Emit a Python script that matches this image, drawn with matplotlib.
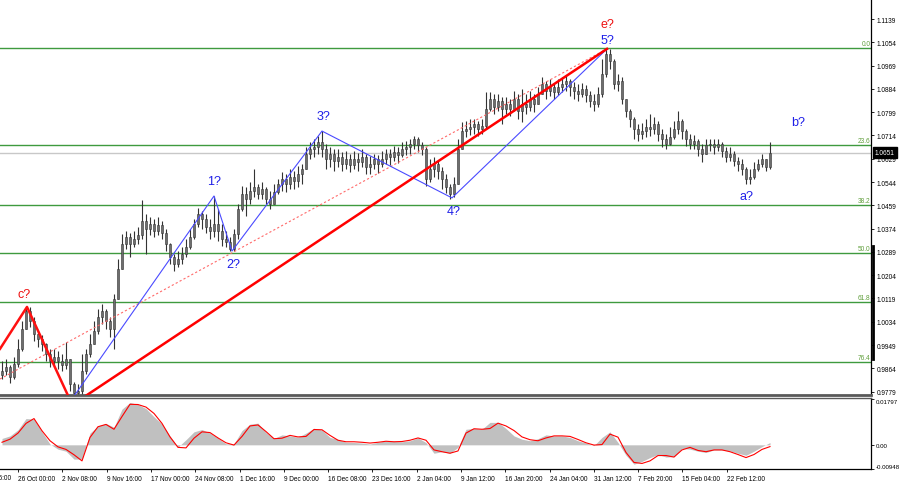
import matplotlib
matplotlib.use('Agg')
import matplotlib.pyplot as plt
import matplotlib.transforms as mtransforms
from matplotlib.lines import Line2D
import numpy as np

plt.rcParams['font.family'] = ['Liberation Sans', 'DejaVu Sans']

# candle data, price in pips (1e-4)
closes = [
    9854, 9869, 9832, 9880, 9935, 10008, 10073, 10037, 9989, 9971,
    9953, 9916, 9891, 9905, 9891, 9876, 9898, 9807, 9774, 9781,
    9854, 9916, 9953, 10000, 10051, 10073, 10037, 10008, 10117, 10227,
    10318, 10343, 10318, 10336, 10351, 10402, 10373, 10391, 10365, 10387,
    10358, 10318, 10270, 10245, 10263, 10281, 10307, 10343, 10391, 10427,
    10409, 10380, 10365, 10391, 10365, 10336, 10325, 10300, 10354, 10446,
    10500, 10482, 10511, 10526, 10500, 10518, 10482, 10464, 10507, 10537,
    10555, 10537, 10562, 10548, 10573, 10592, 10646, 10664, 10672, 10690,
    10664, 10628, 10646, 10621, 10635, 10610, 10628, 10606, 10628, 10617,
    10635, 10599, 10610, 10628, 10610, 10628, 10646, 10635, 10654, 10643,
    10664, 10672, 10683, 10701, 10679, 10664, 10555, 10592, 10610, 10584,
    10555, 10526, 10500, 10537, 10664, 10730, 10738, 10745, 10756, 10738,
    10748, 10811, 10847, 10818, 10840, 10811, 10829, 10811, 10847, 10803,
    10829, 10818, 10847, 10829, 10865, 10902, 10876, 10891, 10873, 10891,
    10902, 10913, 10891, 10876, 10865, 10884, 10862, 10840, 10829, 10865,
    10938, 11011, 10986, 10902, 10913, 10847, 10803, 10774, 10738, 10719,
    10730, 10745, 10738, 10756, 10719, 10701, 10683, 10708, 10738, 10767,
    10730, 10701, 10683, 10694, 10664, 10646, 10679, 10683, 10672, 10683,
    10657, 10635, 10646, 10621, 10610, 10592, 10555, 10562, 10592, 10610,
    10628, 10599, 10651,
]
highs = [
    9891, 9898, 9876, 9905, 9971, 10037, 10088, 10088, 10051, 10000,
    9986, 9956, 9935, 9935, 9927, 9916, 9960, 9880, 9814, 9807,
    9916, 9935, 9989, 10037, 10081, 10099, 10081, 10051, 10135, 10263,
    10354, 10365, 10358, 10365, 10380, 10478, 10427, 10416, 10409, 10416,
    10402, 10373, 10321, 10281, 10292, 10307, 10336, 10373, 10409, 10449,
    10438, 10427, 10409, 10493, 10446, 10391, 10365, 10343, 10373, 10464,
    10529, 10526, 10544, 10592, 10537, 10544, 10526, 10511, 10537, 10555,
    10581, 10573, 10592, 10584, 10602, 10610, 10672, 10690, 10701, 10712,
    10730, 10683, 10672, 10664, 10664, 10654, 10657, 10646, 10657, 10650,
    10664, 10646, 10639, 10646, 10643, 10657, 10664, 10664, 10675, 10672,
    10690, 10694, 10701, 10712, 10708, 10690, 10672, 10628, 10635, 10621,
    10599, 10573, 10537, 10562, 10701, 10763, 10767, 10774, 10774, 10767,
    10774, 10873, 10873, 10865, 10865, 10854, 10854, 10847, 10876, 10865,
    10884, 10865, 10876, 10865, 10891, 10927, 10913, 10920, 10902, 10920,
    10927, 10931, 10920, 10909, 10902, 10905, 10898, 10876, 10865, 10891,
    10993, 11030, 11030, 10993, 10938, 10927, 10847, 10811, 10781, 10756,
    10759, 10774, 10792, 10781, 10767, 10738, 10719, 10745, 10767, 10803,
    10774, 10738, 10719, 10716, 10701, 10683, 10701, 10701, 10701, 10701,
    10690, 10672, 10672, 10657, 10635, 10628, 10599, 10592, 10617, 10628,
    10646, 10628, 10690,
]
lows = [
    9825, 9840, 9810, 9825, 9869, 9927, 10008, 10015, 9964, 9942,
    9927, 9891, 9869, 9876, 9862, 9854, 9862, 9781, 9752, 9752,
    9767, 9843, 9905, 9953, 9989, 10026, 10008, 9978, 9935, 10135,
    10256, 10300, 10270, 10307, 10318, 10336, 10281, 10351, 10343, 10351,
    10336, 10292, 10245, 10219, 10234, 10245, 10270, 10300, 10336, 10380,
    10373, 10358, 10336, 10343, 10329, 10310, 10307, 10292, 10292, 10336,
    10438, 10420, 10464, 10489, 10482, 10482, 10464, 10446, 10471, 10500,
    10511, 10507, 10518, 10518, 10526, 10537, 10592, 10628, 10635, 10646,
    10635, 10592, 10599, 10584, 10599, 10584, 10592, 10581, 10592, 10584,
    10599, 10573, 10573, 10592, 10577, 10599, 10610, 10606, 10621, 10613,
    10635, 10643, 10646, 10664, 10654, 10643, 10529, 10544, 10562, 10555,
    10518, 10504, 10482, 10489, 10537, 10672, 10708, 10716, 10719, 10712,
    10719, 10738, 10803, 10792, 10803, 10756, 10792, 10785, 10803, 10774,
    10763, 10792, 10803, 10800, 10829, 10865, 10847, 10858, 10847, 10862,
    10873, 10876, 10858, 10847, 10840, 10854, 10836, 10818, 10803, 10818,
    10854, 10927, 10957, 10884, 10876, 10829, 10781, 10745, 10701, 10694,
    10701, 10708, 10712, 10719, 10694, 10672, 10664, 10679, 10701, 10719,
    10701, 10675, 10664, 10664, 10639, 10617, 10646, 10657, 10646, 10657,
    10635, 10617, 10621, 10602, 10584, 10570, 10537, 10537, 10555, 10584,
    10599, 10584, 10592,
]
first_open = 9840

# oscillator (1e-4), one value every second candle
osc_hist = [
    25, 35, 59, 103, 101, 51, 3, -17, -25, -56,
    -56, 46, 74, 84, 69, 140, 166, 158, 142, 110,
    81, 35, -9, 20, 51, 60, 46, 26, 4, 4,
    56, 81, 85, 48, 25, 39, 35, 30, 46, 65,
    58, 29, 21, 10, 9, 7, 3, 10, 16, 13,
    12, 16, 27, 9, -33, -27, -33, -10, 61, 64,
    61, 88, 88, 64, 35, 22, 16, 24, 39, 35,
    35, 29, 16, 7, -3, 29, 51, 9, -41, -76,
    -65, -50, -38, -48, -46, -14, -17, -25, -30, -20,
    -20, -24, -33, -41, -25, -7, 9,
]
osc_signal = [
    10, 22, 46, 84, 103, 55, 16, -8, -18, -39,
    -63, 29, 71, 80, 61, 111, 159, 158, 148, 123,
    84, 31, -10, -12, 26, 51, 48, 27, 8, -1,
    33, 74, 78, 52, 24, 26, 37, 31, 33, 60,
    59, 37, 18, 12, 12, 10, 7, 10, 14, 12,
    13, 18, 27, 18, -20, -27, -33, -24, 46, 63,
    61, 64, 85, 74, 56, 31, 20, 16, 27, 35,
    35, 33, 21, 8, -1, 1, 42, 30, -30, -69,
    -73, -63, -42, -42, -48, -20, -10, -22, -27, -20,
    -20, -27, -38, -50, -38, -18, -7,
]

fib_names = ['0.0', '23.6', '38.2', '50.0', '61.8', '76.4']
fib_prices = [1.1033, 1.0679, 1.0459, 1.0286, 1.0106, 0.9888]

price_ticks = [1.1139, 1.1054, 1.0969, 1.0884, 1.0799, 1.0714, 1.0629, 1.0544,
               1.0459, 1.0374, 1.0289, 1.0204, 1.0119, 1.0034, 0.9949, 0.9864, 0.9779]
last_price = 1.0651
osc_ticks = [0.01797, 0.0, -0.00948]
osc_tick_labels = ['0.01797', '0.00', '-0.00948']

time_labels = ['18 Oct 16:00', '26 Oct 00:00', '2 Nov 08:00', '9 Nov 16:00', '17 Nov 00:00',
               '24 Nov 08:00', '1 Dec 16:00', '9 Dec 00:00', '16 Dec 08:00', '23 Dec 16:00',
               '2 Jan 04:00', '9 Jan 12:00', '16 Jan 20:00', '24 Jan 04:00', '31 Jan 12:00',
               '7 Feb 20:00', '15 Feb 04:00', '22 Feb 12:00']
time_pos = [-7.1, 4.0, 15.1, 26.2, 37.2, 48.3, 59.4, 70.5, 81.5, 92.6,
            103.7, 114.8, 125.8, 136.9, 148.0, 159.1, 170.1, 181.2]

# wave markup
blue_wave_x = [17.5, 53.0, 57.5, 80.0, 112.5, 151.25]
blue_wave_y = [0.9752, 1.0493, 1.0292, 1.0730, 1.0486, 1.1030]
red_trend_x = [19.75, 151.25]
red_trend_y = [0.9752, 1.1030]
red_dotted_x = [-0.5, 151.25]
red_dotted_y = [0.9825, 1.1030]
red_zig_x = [-0.5, 6.25, 16.9]
red_zig_y = [0.9935, 1.0088, 0.9752]

wave_text = ['c?', '1?', '2?', '3?', '4?', '5?', 'e?', 'a?', 'b?']
wave_text_x = [5.6, 53.1, 57.75, 80.4, 112.9, 151.25, 151.25, 186.25, 199.1]
wave_text_y = [1.0135, 1.0548, 1.0243, 1.0785, 1.0438, 1.1061, 1.1119, 1.0493, 1.0763]
wave_text_c = ['#ee1111', '#1f1fe8', '#1f1fe8', '#1f1fe8', '#1f1fe8', '#1f1fe8',
               '#ee1111', '#1f1fe8', '#1f1fe8']

W, H = 900, 485
fig = plt.figure(figsize=(W / 100, H / 100), dpi=100)
ax = fig.add_axes([0, 1 - 396 / H, 871 / W, 396 / H])
ax2 = fig.add_axes([0, 1 - 470 / H, 871 / W, 71 / H])

n = min(len(closes), len(highs), len(lows))
x = np.arange(n)
c = np.array(closes[:n]) / 1e4
o = np.array([first_open] + closes[:n - 1]) / 1e4
hi = np.maximum(np.array(highs[:n]) / 1e4, np.maximum(o, c))
lo = np.minimum(np.array(lows[:n]) / 1e4, np.minimum(o, c))

# levels
for name, p in zip(fib_names, fib_prices):
    ax.axhline(p, color='#3f9a3f', lw=1, zorder=1)
    ax.text(217.1, p + 0.0004, name, ha='right', va='bottom', fontsize=4.7,
            color='#5f9e3a', zorder=6)
ax.axhline(last_price, color='#c8c8c8', lw=1, zorder=0.5)

# candles
ax.vlines(x, lo, hi, color='#333333', lw=0.8, zorder=2)
ax.bar(x, np.abs(c - o), bottom=np.minimum(o, c), width=0.7, color='#6e6e6e',
       edgecolor='#333333', linewidth=0.4, zorder=3)

# wave lines
ax.plot(red_dotted_x, red_dotted_y, color='#ff6a6a', lw=0.8, ls=(0, (2, 2)), zorder=4)
ax.plot(blue_wave_x, blue_wave_y, color='#4a4aff', lw=0.8, zorder=4)
ax.plot(red_trend_x, red_trend_y, color='#ff0000', lw=1.8, zorder=5)
ax.plot(red_zig_x, red_zig_y, color='#ff1010', lw=1.8, zorder=5)
for t, tx, ty, col in zip(wave_text, wave_text_x, wave_text_y, wave_text_c):
    ax.text(tx, ty, t, ha='center', va='center', fontsize=9, color=col, zorder=7)

ax.set_xlim(-0.5, 217.25)
ax.set_ylim(0.97666, 1.1212)
ax.set_xticks([])
ax.yaxis.tick_right()
ax.set_yticks(price_ticks)
ax.set_yticklabels(['%.4f' % p for p in price_ticks])
ax.tick_params(axis='y', direction='out', length=2, width=0.6, pad=2,
               labelsize=4.7, colors='black')
for s in ['top', 'left']:
    ax.spines[s].set_visible(False)
ax.spines['right'].set_linewidth(0.9)
ax.spines['bottom'].set_color('#5a5a5a')
ax.spines['bottom'].set_linewidth(2)

# last price box
ax.text(1.0 + 4 / 871, last_price, '%.4f' % last_price,
        transform=mtransforms.blended_transform_factory(ax.transAxes, ax.transData),
        ha='left', va='center', fontsize=4.7, color='white', zorder=8,
        bbox=dict(boxstyle='square,pad=0.3', fc='black', ec='black'), clip_on=False)

# oscillator panel
ox = np.arange(len(osc_hist)) * 2
ax2.fill_between(ox, 0, np.array(osc_hist) / 1e4, color='#c0c0c0', lw=0, zorder=1)
ax2.plot(ox, np.array(osc_signal) / 1e4, color='#ff0000', lw=0.8, zorder=2)
ax2.set_xlim(-0.5, 217.25)
ax2.set_ylim(-0.00948, 0.01836)
ax2.yaxis.tick_right()
ax2.set_yticks(osc_ticks)
ax2.set_yticklabels(osc_tick_labels)
ax2.tick_params(axis='y', direction='out', length=2, width=0.6, pad=1.5, labelsize=4.4)
labs = ax2.get_yticklabels()
labs[0].set_va('top')
labs[2].set_va('bottom')
ax2.set_xticks(time_pos[1:])
ax2.set_xticklabels(time_labels[1:])
ax2.tick_params(axis='x', direction='out', length=2, width=0.6, pad=2, labelsize=4.7)
for lbl in ax2.get_xticklabels():
    lbl.set_ha('left')
ax2.text(time_pos[0], -0.0113, time_labels[0], ha='left', va='top', fontsize=4.7,
         clip_on=False)
ax2.spines['left'].set_visible(False)
ax2.spines['top'].set_color('#5a5a5a')
ax2.spines['top'].set_linewidth(1)
ax2.spines['right'].set_linewidth(0.9)
ax2.spines['bottom'].set_linewidth(0.9)

fig.add_artist(Line2D([872.5 / W] * 2, [1 - 247 / H, 1 - 360 / H], color='black',
                      lw=2, transform=fig.transFigure))

fig.savefig('out.png', dpi=100)
